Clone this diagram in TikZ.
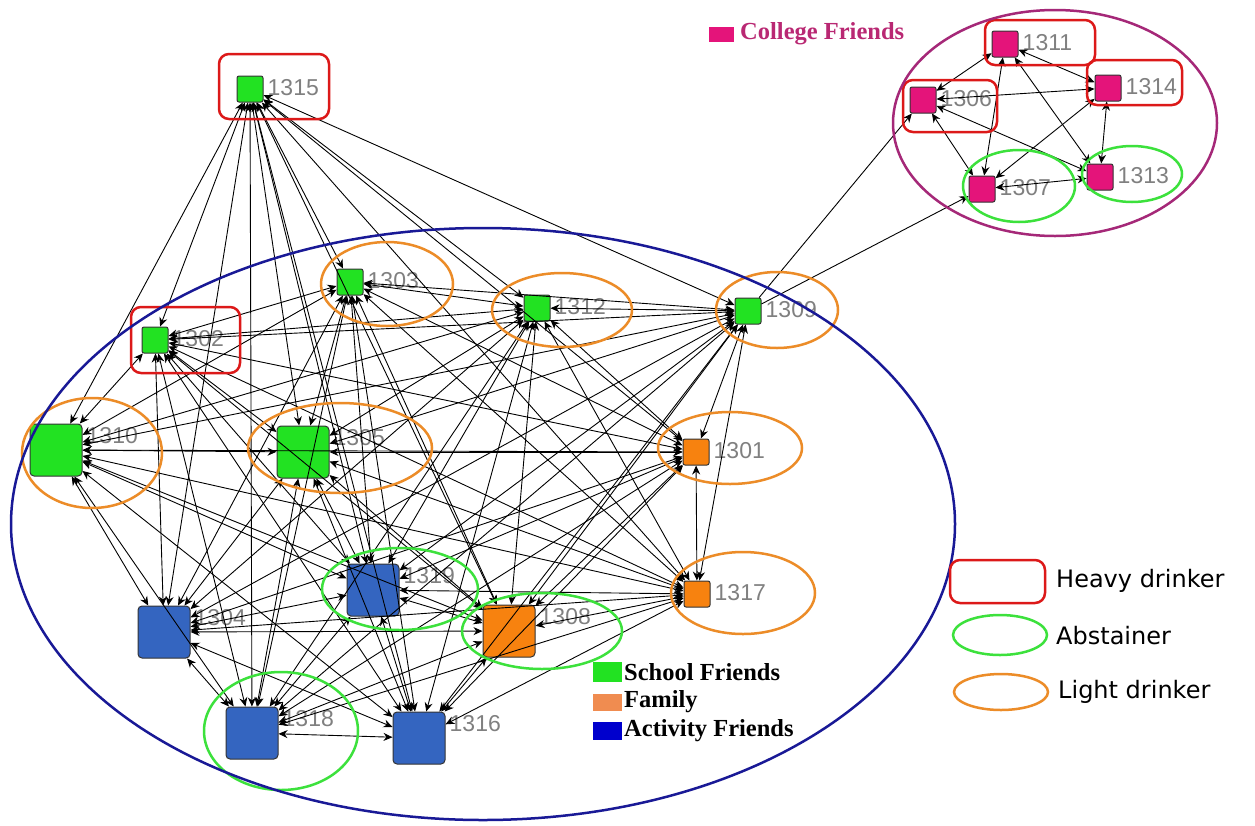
\documentclass[tikz,border=0pt]{standalone}
\usepackage{fontspec}
\setmainfont{Liberation Serif}
\newfontfamily\lblfont{Liberation Sans}
\newfontfamily\legfont{DejaVu Sans}
\usetikzlibrary{arrows.meta,calc}
\definecolor{sgreen}{RGB}{34,226,34}
\definecolor{forange}{RGB}{247,130,15}
\definecolor{ablue}{RGB}{52,101,192}
\definecolor{cpink}{RGB}{228,20,122}
\definecolor{hvred}{RGB}{220,25,25}
\definecolor{abgreen}{RGB}{60,225,60}
\definecolor{ltorange}{RGB}{236,140,40}
\definecolor{bigblue}{RGB}{25,25,150}
\definecolor{cpurple}{RGB}{165,40,120}
\definecolor{ctext}{RGB}{185,40,115}
\definecolor{labgray}{RGB}{128,128,128}
\definecolor{famleg}{RGB}{240,140,80}
\definecolor{actleg}{RGB}{0,0,205}
\begin{document}
\begin{tikzpicture}[x=1pt,y=-1pt,
  sq/.style={draw=black!80, line width=1pt, rounded corners=2pt, minimum size=26pt, inner sep=0pt},
  big/.style={minimum size=52pt, rounded corners=4pt},
  lbl/.style={font=\lblfont\fontsize{23}{23}\selectfont, text=labgray, inner sep=0pt, anchor=west},
  edge/.style={line width=0.9pt, {Stealth[length=9pt,width=8pt]}-{Stealth[length=9pt,width=8pt]}},
  oneway/.style={line width=0.9pt, -{Stealth[length=9pt,width=8pt]}},
  heavy/.style={draw=hvred, line width=2.5pt, rounded corners=10pt},
  abst/.style={draw=abgreen, line width=2.5pt},
  light/.style={draw=ltorange, line width=2.5pt},
  legtext/.style={font=\legfont\fontsize{24}{24}\selectfont, anchor=west, inner sep=0pt},
  sertext/.style={font=\bfseries\fontsize{24.5}{24.5}\selectfont, anchor=west, inner sep=0pt},
]
\useasboundingbox (0,0) rectangle (1255,825);
\fill[white] (0,0) rectangle (1255,825);

% inner network nodes
\node[sq, fill=sgreen] (n1315) at (250,89) {};
\node[sq, fill=sgreen] (n1303) at (350,282) {};
\node[sq, fill=sgreen] (n1302) at (155,340) {};
\node[sq, fill=sgreen] (n1312) at (537,308) {};
\node[sq, fill=sgreen] (n1309) at (748,311) {};
\node[sq, fill=forange] (n1301) at (696,452) {};
\node[sq, fill=forange] (n1317) at (697,594) {};
\node[sq, big, fill=sgreen] (n1310) at (56,450) {};
\node[sq, big, fill=sgreen] (n1305) at (303,452) {};
\node[sq, big, fill=ablue] (n1319) at (373,590) {};
\node[sq, big, fill=ablue] (n1304) at (164,632) {};
\node[sq, big, fill=forange] (n1308) at (509,631) {};
\node[sq, big, fill=ablue] (n1316) at (419,738) {};
\node[sq, big, fill=ablue] (n1318) at (252,733) {};

% college cluster
\node[sq, fill=cpink] (n1311) at (1005,44) {};
\node[sq, fill=cpink] (n1314) at (1108,88) {};
\node[sq, fill=cpink] (n1306) at (923,100) {};
\node[sq, fill=cpink] (n1307) at (982,189) {};
\node[sq, fill=cpink] (n1313) at (1100,177) {};

% labels
\foreach \n in {1315,1303,1302,1312,1309,1301,1317,1310,1305,1319,1304,1308,1316,1318,1311,1314,1306,1307,1313}
  \node[lbl] (l\n) at ($(n\n.north east)+(4,12)$) {\n};

% edges inner network (complete)
\foreach \a [count=\i] in {n1315,n1303,n1302,n1312,n1309,n1301,n1317,n1310,n1305,n1319,n1304,n1308,n1316,n1318}{
  \foreach \b [count=\j] in {n1315,n1303,n1302,n1312,n1309,n1301,n1317,n1310,n1305,n1319,n1304,n1308,n1316,n1318}{
    \ifnum\j>\i \draw[edge] (\a) -- (\b); \fi
  }
}
% edges college cluster
\foreach \a [count=\i] in {n1311,n1314,n1306,n1307,n1313}{
  \foreach \b [count=\j] in {n1311,n1314,n1306,n1307,n1313}{
    \ifnum\j>\i \draw[edge] (\a) -- (\b); \fi
  }
}
\draw[oneway] (n1309) -- (n1306);
\draw[oneway] (n1309) -- (n1307);

% drinker annotations
\draw[heavy] (219,54) rectangle (329,119);
\draw[heavy] (131,307) rectangle (240,373);
\draw[heavy] (985,20) rectangle (1095,65);
\draw[heavy] (1087,60) rectangle (1182,105);
\draw[heavy] (903,80) rectangle (997,132);

\draw[light] (387,284) ellipse [x radius=66pt, y radius=42pt];
\draw[light] (562,310) ellipse [x radius=70pt, y radius=37pt];
\draw[light] (777,310) ellipse [x radius=61pt, y radius=38pt];
\draw[light] (730,448) ellipse [x radius=72pt, y radius=36pt];
\draw[light] (92,453) ellipse [x radius=70pt, y radius=55pt];
\draw[light] (340,448) ellipse [x radius=92pt, y radius=45pt];
\draw[light] (743,593) ellipse [x radius=72pt, y radius=41pt];

\draw[abst] (400,589) ellipse [x radius=78pt, y radius=41pt];
\draw[abst] (542,631) ellipse [x radius=80pt, y radius=38pt];
\draw[abst] (281,731) ellipse [x radius=77pt, y radius=59pt];
\draw[abst] (1019,186) ellipse [x radius=56pt, y radius=36pt];
\draw[abst] (1132,174) ellipse [x radius=50pt, y radius=28pt];

% group ellipses
\draw[bigblue, line width=2.5pt] (483,524) ellipse [x radius=472pt, y radius=296pt];
\draw[cpurple, line width=2.5pt] (1055,123) ellipse [x radius=162pt, y radius=113pt];

% group legend
\node[fill=cpink, minimum width=25pt, minimum height=15pt, inner sep=0pt] (cf) at (721,34) {};
\node[sertext, text=ctext] (cft) at (740,34) {College Friends};
\node[fill=sgreen, minimum width=29pt, minimum height=20pt, inner sep=0pt] (sf) at (607,672) {};
\node[sertext] (sft) at (624,672) {School Friends};
\node[fill=famleg, minimum width=29pt, minimum height=17pt, inner sep=0pt] (fm) at (607,702) {};
\node[sertext] (fmt) at (624,702) {Family};
\node[fill=actleg, minimum width=29pt, minimum height=18pt, inner sep=0pt] (ac) at (607,731) {};
\node[sertext] (act) at (624,731) {Activity Friends};

% drinker legend
\draw[heavy] (950,560) rectangle (1045,603);
\node[legtext] (hd) at (1056,581) {Heavy drinker};
\draw[abst] (1000,635) ellipse [x radius=47pt, y radius=20pt];
\node[legtext] (ab) at (1056,636) {Abstainer};
\draw[light] (1001,692) ellipse [x radius=47pt, y radius=18pt];
\node[legtext] (ld) at (1058,692) {Light drinker};
\end{tikzpicture}
\end{document}
